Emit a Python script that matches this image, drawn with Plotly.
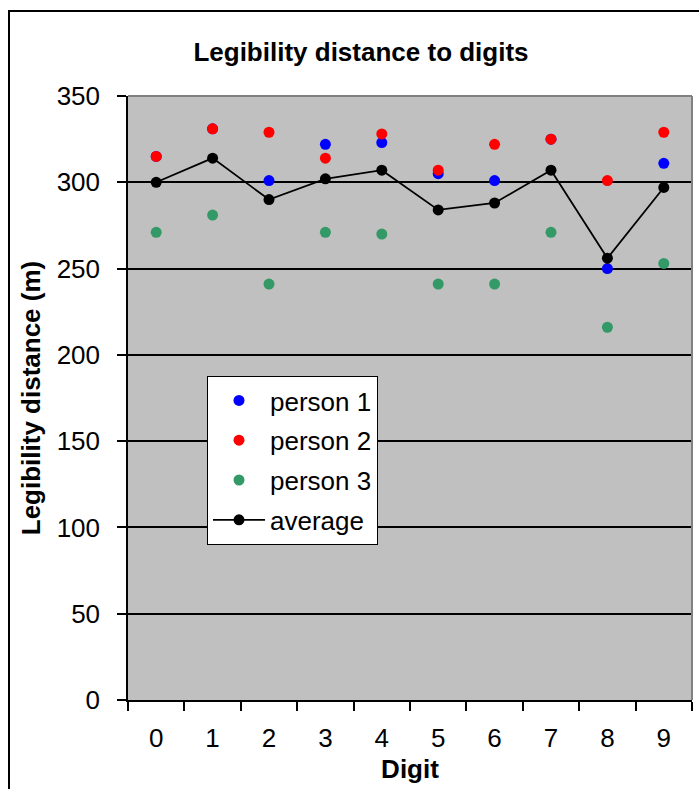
import plotly.graph_objects as go

# Legibility distance (m) per digit for three observers and their mean
digits = ["0", "1", "2", "3", "4", "5", "6", "7", "8", "9"]
person_1 = [315, 331, 301, 322, 323, 305, 301, 325, 250, 311]
person_2 = [315, 331, 329, 314, 328, 307, 322, 325, 301, 329]
person_3 = [271, 281, 241, 271, 270, 241, 241, 271, 216, 253]
average = [300, 314, 290, 302, 307, 284, 288, 307, 256, 297]

y_ticks = [0, 50, 100, 150, 200, 250, 300, 350]

FONT = "Liberation Sans, Arial, sans-serif"
FS = 26

fig = go.Figure()

series = [
    ("person 1", person_1, "#0000FF"),
    ("person 2", person_2, "#FF0000"),
    ("person 3", person_3, "#339966"),
]
for name, vals, col in series:
    fig.add_trace(go.Scatter(
        x=digits, y=vals, name=name, mode="markers",
        marker=dict(color=col, size=11),
        legendgroup=name,
    ))

fig.add_trace(go.Scatter(
    x=digits, y=average, name="average", mode="lines+markers",
    line=dict(color="black", width=1.8),
    marker=dict(color="black", size=11),
    legendgroup="average",
))

W, H = 699, 789
L, R, T, B = 128, 7, 96, 89
pw, ph = W - L - R, H - T - B


def px(xp):
    return (xp - L) / pw


def py(yp):
    return (H - B - yp) / ph


shapes = [
    # outer chart frame
    dict(type="rect", xref="paper", yref="paper",
         x0=px(9), x1=px(720), y0=py(11), y1=py(820),
         line=dict(color="black", width=2), fillcolor="rgba(0,0,0,0)",
         layer="below"),
    # plot area top/right edge
    dict(type="line", xref="paper", yref="paper", x0=0, x1=1, y0=1, y1=1,
         line=dict(color="#808080", width=2)),
    dict(type="line", xref="paper", yref="paper", x0=1, x1=1, y0=0, y1=1,
         line=dict(color="#808080", width=2)),
]

fig.update_layout(
    width=W, height=H,
    margin=dict(l=L, r=R, t=T, b=B),
    paper_bgcolor="white",
    plot_bgcolor="#C0C0C0",
    font=dict(family=FONT, size=FS, color="black"),
    title=dict(text="<b>Legibility distance to digits</b>",
               x=361 / W, xanchor="center", y=1 - 52 / H, yanchor="middle",
               font=dict(family=FONT, size=FS, color="black")),
    showlegend=True,
    legend=dict(
        x=px(207), y=py(376), xanchor="left", yanchor="top",
        bgcolor="white", bordercolor="black", borderwidth=1,
        font=dict(family=FONT, size=FS, color="black"),
        itemwidth=52, tracegroupgap=3,
    ),
    shapes=shapes,
)

fig.update_xaxes(
    type="category", categoryorder="array", categoryarray=digits,
    range=[-0.5, 9.5],
    tickson="boundaries", ticks="outside", ticklen=9, tickwidth=1.5,
    tickcolor="black", showline=True, linecolor="black", linewidth=1.5,
    showgrid=False, ticklabelstandoff=14,
    tickfont=dict(family=FONT, size=FS, color="black"),
    title=dict(text="<b>Digit</b>", standoff=8,
               font=dict(family=FONT, size=FS, color="black")),
)

fig.update_yaxes(
    range=[0, 350], tickvals=y_ticks, ticks="outside", ticklen=9,
    tickwidth=1.5, tickcolor="black", showline=True, linecolor="black",
    linewidth=1.5, showgrid=True, gridcolor="black", gridwidth=1.5,
    zeroline=False, ticklabelstandoff=12,
    tickfont=dict(family=FONT, size=FS, color="black"),
    title=dict(text="<b>Legibility distance (m)</b>", standoff=9,
               font=dict(family=FONT, size=FS, color="black")),
)

fig.write_html("out.html")
